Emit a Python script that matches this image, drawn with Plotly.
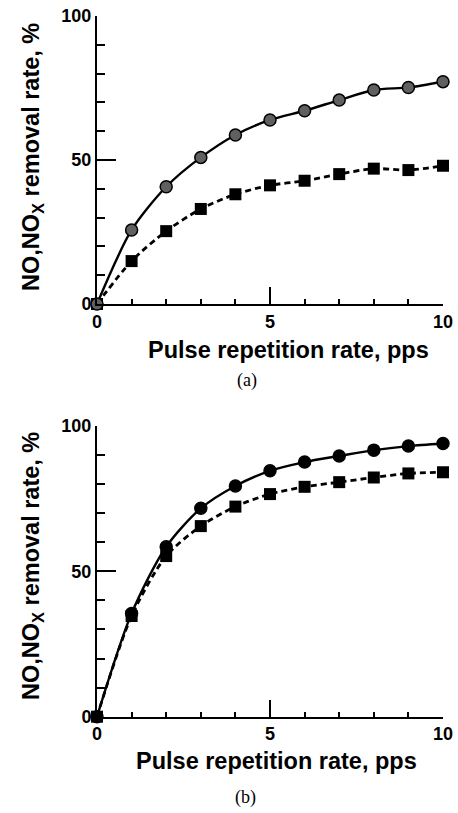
import plotly.graph_objects as go

pps = [0, 1, 2, 3, 4, 5, 6, 7, 8, 9, 10]
a_no = [0, 25.7, 40.7, 50.9, 58.7, 63.9, 67.1, 70.8, 74.3, 75.2, 77.2]
a_nox = [0, 14.9, 25.3, 33.0, 38.1, 41.2, 42.8, 45.1, 47.0, 46.5, 48.0]
b_no = [0, 35.5, 58.4, 71.6, 79.3, 84.5, 87.5, 89.6, 91.6, 93.0, 93.9]
b_nox = [0, 34.6, 55.2, 65.5, 72.2, 76.5, 79.0, 80.6, 82.2, 83.6, 84.0]
x_title = "Pulse repetition rate, pps"
y_title = "NO,NO<sub>X</sub> removal rate, %"
captions = ["(a)", "(b)"]

W, H = 458, 813

def px(x):
    return x / W

def py(y):
    return 1 - y / H

fig = go.Figure()

def add_panel(no, nox, xa, ya, circle_color):
    fig.add_trace(go.Scatter(x=pps, y=nox, xaxis=xa, yaxis=ya, mode="lines+markers",
                             line=dict(color="black", width=2.8, dash="6px,4px", shape="spline", smoothing=0.8),
                             marker=dict(symbol="square", size=12, color="black"),
                             cliponaxis=False, showlegend=False))
    fig.add_trace(go.Scatter(x=pps, y=no, xaxis=xa, yaxis=ya, mode="lines+markers",
                             line=dict(color="black", width=2.4, shape="spline", smoothing=0.8),
                             marker=dict(symbol="circle", size=12, color=circle_color,
                                         line=dict(color="black", width=1.5)),
                             cliponaxis=False, showlegend=False))

add_panel(a_no, a_nox, "x", "y", "#606060")
add_panel(b_no, b_nox, "x2", "y2", "black")

tickfont = dict(family="Liberation Sans", size=18, color="black", weight="bold")

def xaxis(domain, anchor):
    return dict(domain=domain, anchor=anchor, range=[0, 10], tickmode="linear", tick0=0, dtick=5,
                ticks="inside", ticklen=17, tickwidth=1.5, tickcolor="black",
                showline=True, linewidth=2, linecolor="black", showgrid=False, zeroline=False,
                tickfont=tickfont,
                minor=dict(dtick=1, ticks="inside", ticklen=5, tickwidth=1.5, tickcolor="black", showgrid=False))

def yaxis(domain, anchor):
    return dict(domain=domain, anchor=anchor, range=[0, 100], tickmode="linear", tick0=0, dtick=50,
                ticks="inside", ticklen=19, tickwidth=1.5, tickcolor="black",
                showline=True, linewidth=2, linecolor="black", showgrid=False, zeroline=False,
                tickfont=tickfont,
                minor=dict(dtick=10, ticks="inside", ticklen=8, tickwidth=1.5, tickcolor="black", showgrid=False))

xd = [px(97), px(443)]
fig.update_layout(
    width=W, height=H, margin=dict(l=0, r=0, t=0, b=0, autoexpand=False),
    paper_bgcolor="white", plot_bgcolor="white",
    xaxis=xaxis(xd, "y"), yaxis=yaxis([py(304), py(16)], "x"),
    xaxis2=xaxis(xd, "y2"), yaxis2=yaxis([py(716.7), py(425.7)], "x2"),
)

tfont = dict(family="Liberation Sans", size=23.5, color="black", weight="bold")
cfont = dict(family="Liberation Serif", size=18, color="black")
ann = []
for (xt, yt), (yl_x, yl_y), (cx, cy), cap in [
    ((288, 350), (32, 157), (247, 380), captions[0]),
    ((276, 761), (32, 566), (245, 797), captions[1]),
]:
    ann.append(dict(text=x_title, x=px(xt), y=py(yt), xref="paper", yref="paper",
                    showarrow=False, font=tfont, xanchor="center", yanchor="middle"))
    ann.append(dict(text=y_title, x=px(yl_x), y=py(yl_y), xref="paper", yref="paper",
                    showarrow=False, font=tfont, textangle=-90, xanchor="center", yanchor="middle"))
    ann.append(dict(text=cap, x=px(cx), y=py(cy), xref="paper", yref="paper",
                    showarrow=False, font=cfont, xanchor="center", yanchor="middle"))
fig.update_layout(annotations=ann)

fig.write_html("out.html", config={"displayModeBar": False},
               post_script="document.body.style.margin='0';document.body.style.overflow='hidden';")
